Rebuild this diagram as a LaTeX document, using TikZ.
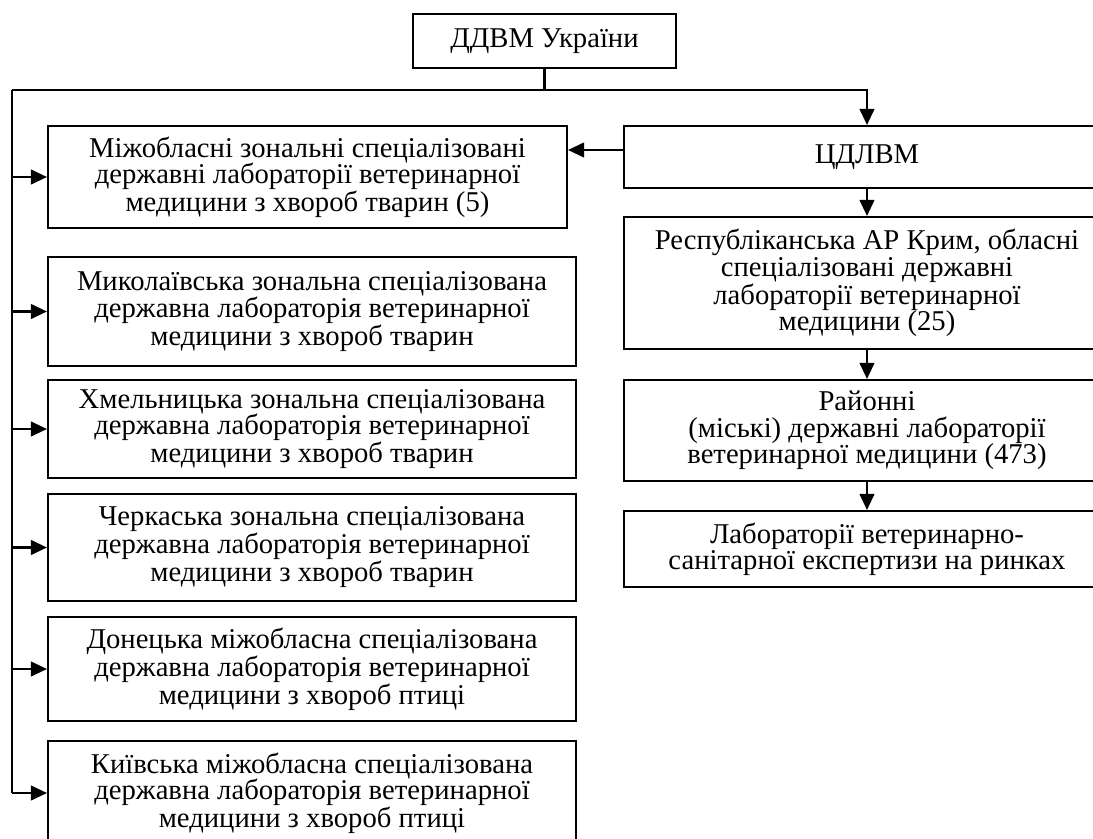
\documentclass[tikz,border=0pt]{standalone}
\usepackage{fontspec}
\setmainfont{Liberation Serif}
\usetikzlibrary{arrows.meta}

\begin{document}
\begin{tikzpicture}[x=0.75pt, y=-0.75pt, line width=1.6pt,
		arr/.style={-{Triangle[length=12pt,width=11pt]}}]
			\useasboundingbox (0,0) rectangle (1093,839);
			\begin{scope}[every node/.style = {shape=rectangle, draw, align=center, inner sep=0pt, font=\fontsize{21.5}{19.8}\selectfont}]
				\tikzstyle{left col}=[minimum width=396pt]
				\tikzstyle{right col}=[minimum width=364.5pt]
				\node (ddvm) [minimum width=197.25pt, minimum height=40.5pt] at (544.5,41) {ДДВМ України};

				\node (cdlvm) [right col, minimum height=46.5pt] at (867,157) {ЦДЛВМ};
				\node (resp) [right col, minimum height=99pt] at (867,283) {Республіканська АР Крим, обласні\\ спеціалізовані державні\\ лабораторії ветеринарної\\ медицини (25)};
				\node (rai) [right col, minimum height=75.75pt] at (867,430.5) {Районні\\ (міські) державні лабораторії\\ ветеринарної медицини (473)};
				\node (lab) [right col, minimum height=57pt] at (867,549) {Лабораторії ветеринарно-\\ санітарної експертизи на ринках};

				\node (mizh) [minimum width=389.25pt, minimum height=76.5pt] at (307.5,177) {Міжобласні зональні спеціалізовані\\ державні лабораторії ветеринарної\\ медицини з хвороб тварин (5)};
				\node (myk) [left col, minimum height=81.75pt] at (312,311.5) {Миколаївська зональна спеціалізована\\ державна лабораторія ветеринарної\\ медицини з хвороб тварин};
				\node (khm) [left col, minimum height=73.5pt] at (312,429) {Хмельницька зональна спеціалізована\\ державна лабораторія ветеринарної\\ медицини з хвороб тварин};
				\node (cherk) [left col, minimum height=80.25pt] at (312,547.5) {Черкаська зональна спеціалізована\\ державна лабораторія ветеринарної\\ медицини з хвороб тварин};
				\node (don) [left col, minimum height=78pt] at (312,669) {Донецька міжобласна спеціалізована\\ державна лабораторія ветеринарної\\ медицини з хвороб птиці};
				\node (kyiv) [left col, minimum height=78pt] at (312,793) {Київська міжобласна спеціалізована\\ державна лабораторія ветеринарної\\ медицини з хвороб птиці};
			\end{scope}

			\coordinate (split) at (ddvm.south |- 0,90);
			\coordinate (trunk) at (12,90);
			\draw (ddvm.south) -- (split);
			\draw[arr] (trunk) -| (cdlvm.north);
			\draw (trunk) -- (trunk |- kyiv.west);
			\foreach \lab in {mizh,myk,khm,cherk,don,kyiv}
				\draw[arr] (trunk |- \lab.west) -- (\lab.west);

			\draw[arr] ([yshift=5.25pt]cdlvm.west) -- ([yshift=5.25pt]cdlvm.west -| mizh.east);
			\draw[arr] (cdlvm.south) -- (resp.north);
			\draw[arr] (resp.south) -- (rai.north);
			\draw[arr] (rai.south) -- (lab.north);
		\end{tikzpicture}
\end{document}
